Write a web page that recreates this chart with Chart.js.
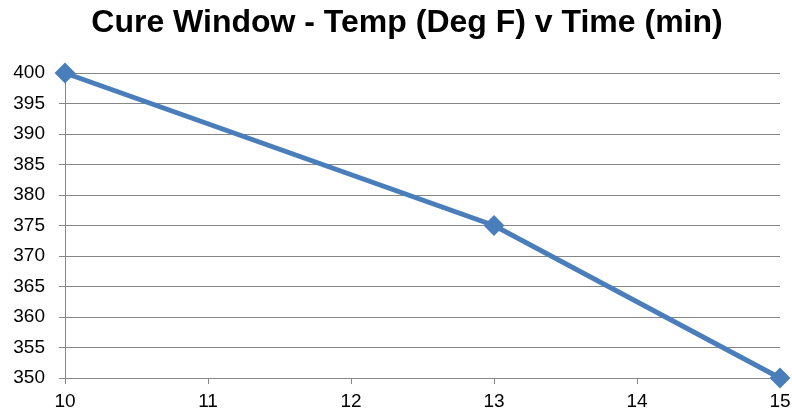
<!DOCTYPE html>
<html>
<head>
<meta charset="utf-8">
<script src="https://cdn.jsdelivr.net/npm/chart.js@4"></script>
<style>
html,body{margin:0;padding:0;background:#fff;}
#wrap{width:792px;height:414px;}
</style>
</head>
<body>
<div id="wrap"><canvas id="c" width="792" height="414"></canvas></div>
<script>
const titleText = 'Cure Window - Temp (Deg F) v Time (min)';
const timeMin = [10, 13, 15];
const tempF = [400, 375, 350];
const xTicks = [10, 11, 12, 13, 14, 15];
const yMin = 350, yMax = 400, yStep = 5;

const points = timeMin.map((t, i) => ({x: t, y: tempF[i]}));
const gray = '#868686';
const font = {family: 'Arial, "Liberation Sans", sans-serif', size: 19};

const shiftTitle = {
  id: 'shiftTitle',
  afterLayout(chart) {
    const t = chart.titleBlock;
    if (t) { t.left = 22; t.right = 792; }
  }
};

new Chart(document.getElementById('c'), {
  type: 'line',
  data: {
    datasets: [{
      data: points,
      borderColor: '#4A7EBB',
      backgroundColor: '#4A7EBB',
      borderWidth: 5,
      pointStyle: 'rectRot',
      pointRadius: 9,
      pointBorderWidth: 2,
      pointBorderColor: '#4A7EBB',
      pointBackgroundColor: '#4A7EBB',
      tension: 0,
      clip: false
    }]
  },
  plugins: [shiftTitle],
  options: {
    responsive: false,
    animation: false,
    layout: {padding: {left: 0, right: 12, top: 0, bottom: 0}},
    plugins: {
      legend: {display: false},
      tooltip: {enabled: false},
      title: {
        display: true,
        text: titleText,
        color: '#000',
        font: {family: 'Arial, "Liberation Sans", sans-serif', size: 32, weight: 'bold', lineHeight: 1.2},
        padding: {top: 4, bottom: 30.6}
      }
    },
    scales: {
      x: {
        type: 'linear',
        min: 10, max: 15,
        afterBuildTicks: s => { s.ticks = xTicks.map(v => ({value: v})); },
        afterFit: s => { s.height = 36; s.paddingLeft = 0; s.paddingRight = 0; },
        grid: {drawOnChartArea: false, color: gray, tickLength: 6, lineWidth: 1},
        border: {color: gray, width: 1},
        ticks: {color: '#000', font: font, padding: 6, maxRotation: 0}
      },
      y: {
        min: yMin, max: yMax,
        afterFit: s => { s.width = 65; s.paddingTop = 0; s.paddingBottom = 0; },
        grid: {color: gray, tickLength: 6, lineWidth: 1},
        border: {color: gray, width: 1},
        ticks: {stepSize: yStep, color: '#000', font: font, padding: 14}
      }
    }
  }
});
</script>
</body>
</html>
